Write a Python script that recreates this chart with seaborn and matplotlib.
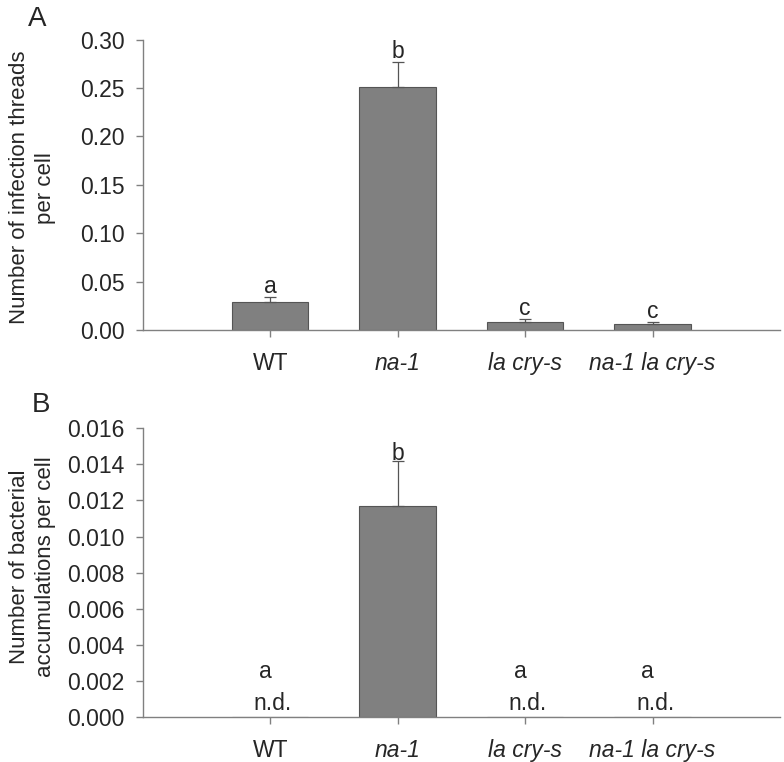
import numpy as np
import pandas as pd
import seaborn as sns
import matplotlib.pyplot as plt

# Data
genotypes = ['WT', 'na-1', 'la cry-s', 'na-1 la cry-s']
threads_mean = [0.029, 0.251, 0.008, 0.006]
threads_se = [0.005, 0.026, 0.003, 0.002]
threads_letters = ['a', 'b', 'c', 'c']
accum_mean = [0.0, 0.0117, 0.0, 0.0]
accum_se = [0.0, 0.0025, 0.0, 0.0]
accum_letters = ['a', 'b', 'a', 'a']
accum_nd = [True, False, True, True]

sns.set_style('white')
plt.rcParams['font.family'] = ['Liberation Sans', 'DejaVu Sans']

grey = '#808080'
axis_col = '#808080'
fs = 16.5

fig = plt.figure(figsize=(7.84, 7.62), dpi=100)
axA = fig.add_axes([0.182, 0.567, 0.813, 0.381])
axB = fig.add_axes([0.182, 0.059, 0.813, 0.379])


def draw_panel(ax, means, ses, ylim, step, fmt):
    df = pd.DataFrame({'genotype': genotypes, 'value': means})
    sns.barplot(data=df, x='genotype', y='value', ax=ax, color=grey,
                width=0.6, edgecolor='#555555', linewidth=0.8,
                saturation=1, errorbar=None)
    x = np.arange(len(genotypes))
    err = np.array(ses)
    show = err > 0
    # one-sided (upper) error bars
    ax.errorbar(x[show], np.array(means)[show],
                yerr=[np.zeros(show.sum()), err[show]],
                fmt='none', ecolor='#555555', elinewidth=0.9,
                capsize=4.5, capthick=0.9)
    ax.set_xlim(-1, 4)
    ax.set_ylim(*ylim)
    ax.set_yticks(np.arange(ylim[0], ylim[1] + step / 2, step))
    ax.set_yticklabels([fmt.format(v) for v in ax.get_yticks()], fontsize=fs)
    ax.set_xlabel('')
    for side in ['top', 'right']:
        ax.spines[side].set_visible(False)
    for side in ['left', 'bottom']:
        ax.spines[side].set_color(axis_col)
        ax.spines[side].set_linewidth(1.0)
    ax.tick_params(axis='both', direction='out', length=5, color=axis_col,
                   left=True, bottom=True, width=1.0)
    ax.tick_params(axis='y', pad=8)
    ax.tick_params(axis='x', pad=11)
    ax.set_xticks(x)
    ax.set_xticklabels(genotypes, fontsize=fs)
    for lbl in ax.get_xticklabels():
        if lbl.get_text() != 'WT':
            lbl.set_style('italic')


draw_panel(axA, threads_mean, threads_se, (0, 0.30), 0.05, '{:.2f}')
axA.set_ylabel('Number of infection threads\nper cell', fontsize=16,
               linespacing=1.3)
axA.yaxis.set_label_coords(-0.136, 0.49)
for i, (m, s, t) in enumerate(zip(threads_mean, threads_se, threads_letters)):
    axA.text(i, m + s + 0.004, t, ha='center', va='baseline', fontsize=fs)

draw_panel(axB, accum_mean, accum_se, (0, 0.016), 0.002, '{:.3f}')
axB.set_ylabel('Number of bacterial\naccumulations per cell', fontsize=16,
               linespacing=1.3)
axB.yaxis.set_label_coords(-0.136, 0.52)
for i, (m, s, t, nd) in enumerate(zip(accum_mean, accum_se, accum_letters, accum_nd)):
    if nd:
        axB.text(i + 0.02, 0.00039, 'n.d.', ha='center', va='baseline', fontsize=fs)
        axB.text(i - 0.04, 0.00216, t, ha='center', va='baseline', fontsize=fs)
    else:
        axB.text(i, m + s + 0.00002, t, ha='center', va='baseline', fontsize=fs)

fig.text(0.035, 0.992, 'A', fontsize=20, va='top', ha='left')
fig.text(0.040, 0.485, 'B', fontsize=20, va='top', ha='left')

fig.savefig('out.png', dpi=100)
